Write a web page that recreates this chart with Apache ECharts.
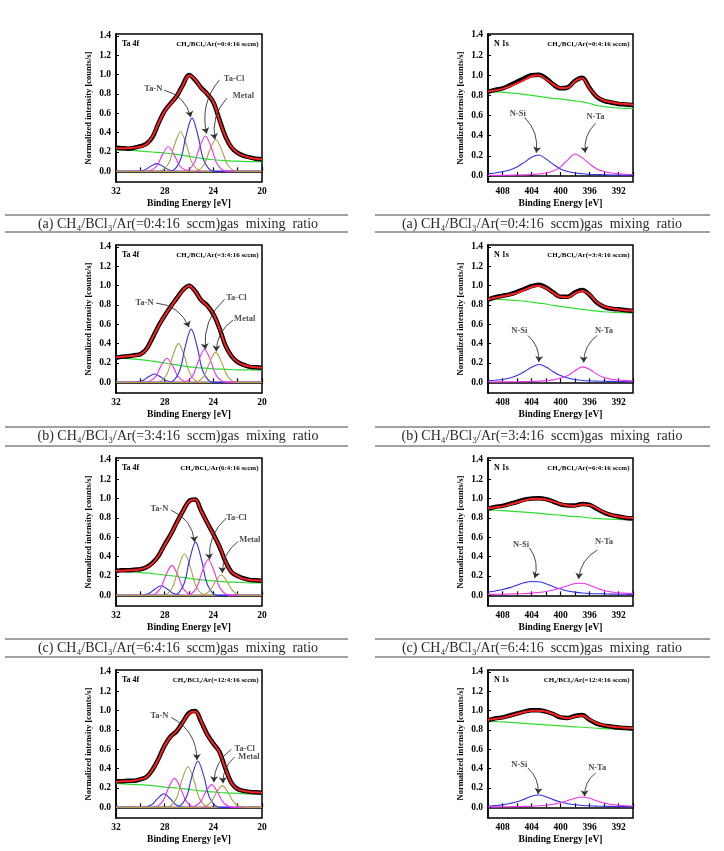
<!DOCTYPE html>
<html>
<head>
<meta charset="utf-8">
<script src="https://cdn.jsdelivr.net/npm/echarts@6/dist/echarts.min.js"></script>
<style>
  html, body { margin: 0; padding: 0; background: #fff; }
  #chart { width: 724px; height: 851px; }
</style>
</head>
<body>
<div id="chart"></div>
<script>
// ---- data ----
// Ta 4f energy grid (eV), high -> low
const taEnergy = [32, 31.5, 31, 30.5, 30, 29.5, 29, 28.5, 28, 27.5, 27, 26.5, 26, 25.5, 25, 24.5, 24, 23.5, 23, 22.5, 22, 21.5, 21, 20.5, 20];
const taBgEnergy = [32, 31, 30, 29, 28, 27, 26, 25, 24, 23, 22, 21, 20];
// N 1s energy grid (eV)
const nEnergy = [410, 409, 408, 407, 406, 405, 404, 403, 402, 401, 400, 399, 398, 397, 396, 395, 394, 393, 392, 391, 390];

// (a) 0:4:16
const taFitA = [0.24, 0.24, 0.24, 0.245, 0.255, 0.28, 0.36, 0.5, 0.62, 0.7, 0.78, 0.89, 0.99, 0.95, 0.86, 0.8, 0.72, 0.53, 0.36, 0.25, 0.19, 0.16, 0.14, 0.13, 0.125];
const taMeasA = [0.245, 0.24, 0.235, 0.245, 0.26, 0.285, 0.355, 0.5, 0.625, 0.705, 0.78, 0.895, 0.995, 0.945, 0.865, 0.8, 0.715, 0.535, 0.36, 0.245, 0.19, 0.16, 0.145, 0.13, 0.125];
const taBgA = [0.22, 0.22, 0.21, 0.2, 0.19, 0.175, 0.155, 0.135, 0.12, 0.11, 0.105, 0.1, 0.1];
const taPeaksA = [
  [[32, 0], [30.45, 0], [29.65, 0.015], [29.15, 0.053], [28.65, 0.08], [28.15, 0.053], [27.65, 0.015], [26.85, 0], [20, 0]],
  [[32, 0], [29.5, 0], [28.7, 0.048], [28.2, 0.168], [27.7, 0.255], [27.2, 0.168], [26.7, 0.048], [25.9, 0], [20, 0]],
  [[32, 0], [28.5, 0], [27.7, 0.078], [27.2, 0.27], [26.7, 0.41], [26.2, 0.27], [25.7, 0.078], [24.9, 0], [20, 0]],
  [[32, 0], [27.55, 0], [26.75, 0.105], [26.25, 0.363], [25.75, 0.55], [25.25, 0.363], [24.75, 0.105], [23.95, 0], [20, 0]],
  [[32, 0], [26.45, 0], [25.65, 0.069], [25.15, 0.241], [24.65, 0.365], [24.15, 0.241], [23.65, 0.069], [22.85, 0], [20, 0]],
  [[32, 0], [25.6, 0], [24.8, 0.063], [24.3, 0.218], [23.8, 0.33], [23.3, 0.218], [22.8, 0.063], [22.0, 0], [20, 0]]
];
const nFitA = [0.84, 0.85, 0.865, 0.89, 0.92, 0.955, 0.99, 1.0, 0.96, 0.91, 0.873, 0.875, 0.94, 0.97, 0.87, 0.79, 0.75, 0.733, 0.72, 0.715, 0.707];
const nMeasA = [0.835, 0.855, 0.87, 0.9, 0.935, 0.97, 1.0, 1.005, 0.97, 0.91, 0.87, 0.88, 0.945, 0.975, 0.875, 0.785, 0.745, 0.73, 0.715, 0.71, 0.705];
const nBgA = [0.84, 0.835, 0.83, 0.825, 0.82, 0.81, 0.8, 0.79, 0.78, 0.77, 0.765, 0.755, 0.745, 0.735, 0.72, 0.7, 0.69, 0.68, 0.675, 0.672, 0.67];
const nSiA = [0.022, 0.03, 0.042, 0.06, 0.09, 0.135, 0.185, 0.208, 0.17, 0.115, 0.07, 0.045, 0.03, 0.022, 0.017, 0.014, 0.012, 0.01, 0.009, 0.008, 0.007];
const nTaA = [0.004, 0.005, 0.006, 0.007, 0.009, 0.011, 0.015, 0.02, 0.03, 0.05, 0.09, 0.16, 0.218, 0.18, 0.12, 0.07, 0.045, 0.03, 0.022, 0.017, 0.014];

// (b) 3:4:16
const taFitB = [0.26, 0.265, 0.27, 0.275, 0.29, 0.34, 0.46, 0.58, 0.69, 0.78, 0.87, 0.95, 1.0, 0.94, 0.85, 0.79, 0.71, 0.56, 0.38, 0.27, 0.21, 0.18, 0.165, 0.155, 0.15];
const taMeasB = [0.255, 0.265, 0.27, 0.28, 0.29, 0.345, 0.46, 0.585, 0.69, 0.785, 0.87, 0.955, 1.0, 0.945, 0.85, 0.795, 0.705, 0.56, 0.38, 0.27, 0.21, 0.18, 0.16, 0.155, 0.15];
const taBgB = [0.25, 0.245, 0.235, 0.22, 0.2, 0.18, 0.16, 0.15, 0.14, 0.135, 0.13, 0.13, 0.125];
const taPeaksB = [
  [[32, 0], [30.64, 0], [29.84, 0.016], [29.34, 0.057], [28.84, 0.086], [28.34, 0.057], [27.84, 0.016], [27.04, 0], [20, 0]],
  [[32, 0], [29.62, 0], [28.82, 0.048], [28.32, 0.165], [27.82, 0.25], [27.32, 0.165], [26.82, 0.048], [26.02, 0], [20, 0]],
  [[32, 0], [28.66, 0], [27.86, 0.076], [27.36, 0.264], [26.86, 0.4], [26.36, 0.264], [25.86, 0.076], [25.06, 0], [20, 0]],
  [[32, 0], [27.62, 0], [26.82, 0.105], [26.32, 0.363], [25.82, 0.55], [25.32, 0.363], [24.82, 0.105], [24.02, 0], [20, 0]],
  [[32, 0], [26.52, 0], [25.72, 0.065], [25.22, 0.224], [24.72, 0.34], [24.22, 0.224], [23.72, 0.065], [22.92, 0], [20, 0]],
  [[32, 0], [25.61, 0], [24.81, 0.059], [24.31, 0.205], [23.81, 0.31], [23.31, 0.205], [22.81, 0.059], [22.01, 0], [20, 0]]
];
const nFitB = [0.86, 0.875, 0.89, 0.905, 0.925, 0.955, 0.985, 1.0, 0.975, 0.925, 0.885, 0.88, 0.92, 0.945, 0.91, 0.83, 0.785, 0.765, 0.755, 0.745, 0.74];
const nMeasB = [0.855, 0.88, 0.895, 0.91, 0.935, 0.965, 0.995, 1.01, 0.98, 0.93, 0.885, 0.885, 0.93, 0.955, 0.905, 0.825, 0.78, 0.76, 0.755, 0.745, 0.738];
const nBgB = [0.865, 0.86, 0.855, 0.85, 0.845, 0.84, 0.83, 0.82, 0.81, 0.795, 0.785, 0.775, 0.765, 0.755, 0.745, 0.737, 0.73, 0.725, 0.722, 0.72, 0.718];
const nSiB = [0.015, 0.022, 0.03, 0.045, 0.07, 0.11, 0.155, 0.184, 0.16, 0.11, 0.07, 0.045, 0.03, 0.02, 0.016, 0.013, 0.011, 0.01, 0.009, 0.008, 0.007];
const nTaB = [0.003, 0.004, 0.005, 0.006, 0.007, 0.008, 0.01, 0.013, 0.018, 0.026, 0.045, 0.07, 0.12, 0.16, 0.135, 0.085, 0.05, 0.033, 0.024, 0.018, 0.015];

// (c) 6:4:16
const taFitC = [0.255, 0.255, 0.26, 0.26, 0.27, 0.29, 0.33, 0.41, 0.52, 0.63, 0.75, 0.87, 0.97, 0.99, 0.87, 0.75, 0.63, 0.51, 0.35, 0.24, 0.2, 0.17, 0.16, 0.155, 0.15];
const taMeasC = [0.255, 0.26, 0.26, 0.265, 0.27, 0.29, 0.335, 0.41, 0.525, 0.63, 0.755, 0.87, 0.975, 0.99, 0.875, 0.75, 0.635, 0.505, 0.35, 0.24, 0.2, 0.175, 0.16, 0.155, 0.15];
const taBgC = [0.25, 0.245, 0.235, 0.225, 0.21, 0.195, 0.175, 0.16, 0.15, 0.14, 0.135, 0.13, 0.13];
const taPeaksC = [
  [[32, 0], [30.09, 0], [29.29, 0.019], [28.79, 0.066], [28.29, 0.1], [27.79, 0.066], [27.29, 0.019], [26.49, 0], [20, 0]],
  [[32, 0], [29.21, 0], [28.41, 0.059], [27.91, 0.205], [27.41, 0.31], [26.91, 0.205], [26.41, 0.059], [25.61, 0], [20, 0]],
  [[32, 0], [28.17, 0], [27.37, 0.082], [26.87, 0.284], [26.37, 0.43], [25.87, 0.284], [25.37, 0.082], [24.57, 0], [20, 0]],
  [[32, 0], [27.26, 0], [26.46, 0.105], [25.96, 0.363], [25.46, 0.55], [24.96, 0.363], [24.46, 0.105], [23.66, 0], [20, 0]],
  [[32, 0], [26.22, 0], [25.42, 0.07], [24.92, 0.244], [24.42, 0.37], [23.92, 0.244], [23.42, 0.07], [22.62, 0], [20, 0]],
  [[32, 0], [25.15, 0], [24.35, 0.04], [23.85, 0.139], [23.35, 0.21], [22.85, 0.139], [22.35, 0.04], [21.55, 0], [20, 0]]
];
const nFitC = [0.9, 0.91, 0.92, 0.94, 0.96, 0.98, 0.995, 1.0, 0.99, 0.97, 0.945, 0.93, 0.925, 0.94, 0.935, 0.9, 0.86, 0.83, 0.815, 0.805, 0.8];
const nMeasC = [0.895, 0.915, 0.925, 0.945, 0.965, 0.99, 1.0, 1.005, 0.995, 0.97, 0.94, 0.93, 0.93, 0.945, 0.935, 0.895, 0.855, 0.83, 0.815, 0.8, 0.795];
const nBgC = [0.885, 0.88, 0.875, 0.87, 0.865, 0.86, 0.855, 0.85, 0.84, 0.835, 0.83, 0.82, 0.815, 0.81, 0.8, 0.795, 0.79, 0.787, 0.785, 0.782, 0.78];
const nSiC = [0.035, 0.045, 0.06, 0.08, 0.105, 0.13, 0.143, 0.14, 0.12, 0.09, 0.065, 0.045, 0.033, 0.025, 0.02, 0.017, 0.015, 0.013, 0.012, 0.011, 0.01];
const nTaC = [0.01, 0.011, 0.012, 0.014, 0.016, 0.019, 0.023, 0.03, 0.04, 0.055, 0.075, 0.1, 0.122, 0.125, 0.105, 0.075, 0.05, 0.035, 0.027, 0.022, 0.018];

// (d) 12:4:16
const taFitD = [0.265, 0.27, 0.27, 0.275, 0.29, 0.31, 0.39, 0.5, 0.64, 0.73, 0.79, 0.88, 0.97, 0.99, 0.89, 0.75, 0.66, 0.57, 0.4, 0.25, 0.19, 0.17, 0.16, 0.155, 0.15];
const taMeasD = [0.27, 0.27, 0.275, 0.275, 0.29, 0.315, 0.39, 0.505, 0.64, 0.735, 0.79, 0.885, 0.975, 0.995, 0.885, 0.755, 0.66, 0.575, 0.4, 0.25, 0.19, 0.17, 0.16, 0.155, 0.15];
const taBgD = [0.245, 0.24, 0.235, 0.225, 0.21, 0.2, 0.185, 0.17, 0.16, 0.15, 0.145, 0.14, 0.14];
const taPeaksD = [
  [[32, 0], [29.87, 0], [29.07, 0.027], [28.57, 0.092], [28.07, 0.14], [27.57, 0.092], [27.07, 0.027], [26.27, 0], [20, 0]],
  [[32, 0], [28.99, 0], [28.19, 0.057], [27.69, 0.198], [27.19, 0.3], [26.69, 0.198], [26.19, 0.057], [25.39, 0], [20, 0]],
  [[32, 0], [27.89, 0], [27.09, 0.08], [26.59, 0.277], [26.09, 0.42], [25.59, 0.277], [25.09, 0.08], [24.29, 0], [20, 0]],
  [[32, 0], [27.07, 0], [26.27, 0.091], [25.77, 0.317], [25.27, 0.48], [24.77, 0.317], [24.27, 0.091], [23.47, 0], [20, 0]],
  [[32, 0], [25.94, 0], [25.14, 0.045], [24.64, 0.155], [24.14, 0.235], [23.64, 0.155], [23.14, 0.045], [22.34, 0], [20, 0]],
  [[32, 0], [25.06, 0], [24.26, 0.043], [23.76, 0.149], [23.26, 0.225], [22.76, 0.149], [22.26, 0.043], [21.46, 0], [20, 0]]
];
const nFitD = [0.905, 0.915, 0.925, 0.945, 0.965, 0.985, 0.998, 1.0, 0.99, 0.965, 0.935, 0.92, 0.94, 0.95, 0.91, 0.87, 0.85, 0.835, 0.828, 0.823, 0.82];
const nMeasD = [0.9, 0.92, 0.93, 0.95, 0.97, 0.99, 1.005, 1.005, 0.99, 0.965, 0.93, 0.925, 0.945, 0.955, 0.905, 0.865, 0.845, 0.835, 0.825, 0.82, 0.815];
const nBgD = [0.89, 0.887, 0.883, 0.878, 0.873, 0.868, 0.863, 0.858, 0.853, 0.848, 0.843, 0.838, 0.833, 0.828, 0.823, 0.818, 0.814, 0.81, 0.807, 0.805, 0.803];
const nSiD = [0.012, 0.018, 0.026, 0.04, 0.058, 0.085, 0.115, 0.128, 0.11, 0.08, 0.055, 0.038, 0.027, 0.02, 0.016, 0.013, 0.011, 0.01, 0.009, 0.008, 0.007];
const nTaD = [0.004, 0.005, 0.006, 0.007, 0.008, 0.01, 0.012, 0.016, 0.022, 0.032, 0.048, 0.07, 0.095, 0.107, 0.095, 0.068, 0.045, 0.03, 0.022, 0.017, 0.014];

// tick labels
const yTicks = [0, 0.2, 0.4, 0.6, 0.8, 1.0, 1.2, 1.4];
const taTicks = [20, 22, 24, 26, 28, 30, 32];
const taLabels = [20, 24, 28, 32];
const nTicks = [390, 392, 394, 396, 398, 400, 402, 404, 406, 408, 410];
const nLabels = [392, 396, 400, 404, 408];

// gas ratios / captions
const gasLeft = ['=0:4:16', '=3:4:16', '6:4:16', '=12:4:16'];
const gasRight = ['=0:4:16', '=3:4:16', '=6:4:16', '=12:4:16'];
const captions = ['(a) CH₄/BCl₃/Ar(=0:4:16  sccm)gas  mixing  ratio',
                  '(b) CH₄/BCl₃/Ar(=3:4:16  sccm)gas  mixing  ratio',
                  '(c) CH₄/BCl₃/Ar(=6:4:16  sccm)gas  mixing  ratio'];

// annotation placement (data coords) and arrow bend
const notesTa = [
  [{ t: 'Ta-N', x: 28.93, y: 0.85, a: [28.05, 0.84], b: [25.86, 0.56], c: 0.3 },
   { t: 'Ta-Cl', x: 22.3, y: 0.96, a: [23.5, 0.945], b: [24.55, 0.39], c: -0.25 },
   { t: 'Metal', x: 21.53, y: 0.78, a: [22.9, 0.755], b: [23.86, 0.33], c: -0.25 }],
  [{ t: 'Ta-N', x: 29.66, y: 0.82, a: [28.7, 0.82], b: [26.0, 0.57], c: 0.3 },
   { t: 'Ta-Cl', x: 22.1, y: 0.875, a: [23.07, 0.86], b: [24.66, 0.34], c: -0.25 },
   { t: 'Metal', x: 21.42, y: 0.66, a: [22.38, 0.645], b: [23.76, 0.32], c: -0.25 }],
  [{ t: 'Ta-N', x: 28.43, y: 0.9, a: [27.47, 0.88], b: [25.54, 0.55], c: 0.3 },
   { t: 'Ta-Cl', x: 22.1, y: 0.8, a: [22.93, 0.8], b: [24.31, 0.37], c: -0.25 },
   { t: 'Metal', x: 21.0, y: 0.575, a: [21.97, 0.557], b: [23.26, 0.23], c: -0.25 }],
  [{ t: 'Ta-N', x: 28.43, y: 0.95, a: [27.47, 0.93], b: [25.35, 0.49], c: 0.3 },
   { t: 'Ta-Cl', x: 21.42, y: 0.61, a: [22.52, 0.6], b: [23.95, 0.26], c: -0.25 },
   { t: 'Metal', x: 21.07, y: 0.525, a: [22.25, 0.52], b: [23.2, 0.25], c: -0.25 }]
];
const notesN = [
  [{ t: 'N-Si', x: 405.9, y: 0.62, a: [404.97, 0.583], b: [403.34, 0.23], c: 0.25 },
   { t: 'N-Ta', x: 395.17, y: 0.583, a: [395.17, 0.523], b: [396.57, 0.23], c: -0.25 }],
  [{ t: 'N-Si', x: 405.67, y: 0.53, a: [404.5, 0.485], b: [403.0, 0.21], c: 0.25 },
   { t: 'N-Ta', x: 394.0, y: 0.53, a: [394.94, 0.485], b: [396.8, 0.205], c: -0.25 }],
  [{ t: 'N-Si', x: 405.43, y: 0.523, a: [404.27, 0.49], b: [403.57, 0.18], c: 0.25 },
   { t: 'N-Ta', x: 394.0, y: 0.55, a: [394.94, 0.47], b: [397.5, 0.17], c: -0.25 }],
  [{ t: 'N-Si', x: 405.67, y: 0.44, a: [404.5, 0.407], b: [403.1, 0.138], c: 0.25 },
   { t: 'N-Ta', x: 394.94, y: 0.407, a: [395.17, 0.355], b: [396.67, 0.114], c: -0.25 }]
];

const taSets = [
  { fit: taFitA, meas: taMeasA, bg: taBgA, peaks: taPeaksA },
  { fit: taFitB, meas: taMeasB, bg: taBgB, peaks: taPeaksB },
  { fit: taFitC, meas: taMeasC, bg: taBgC, peaks: taPeaksC },
  { fit: taFitD, meas: taMeasD, bg: taBgD, peaks: taPeaksD }
];
const nSets = [
  { fit: nFitA, meas: nMeasA, bg: nBgA, si: nSiA, ta: nTaA },
  { fit: nFitB, meas: nMeasB, bg: nBgB, si: nSiB, ta: nTaB },
  { fit: nFitC, meas: nMeasC, bg: nBgC, si: nSiC, ta: nTaC },
  { fit: nFitD, meas: nMeasD, bg: nBgD, si: nSiD, ta: nTaD }
];

// ---- layout / style ----
const SERIF = '"Liberation Serif", "DejaVu Serif", serif';
const rowTop = [34, 245, 458, 670];
const rowH = 148;
const colLeft = [116, 488];
const colW = [146, 145];
// the top-right panel sits its zero a little lower in the frame
const yMinOf = (row, col) => (row === 0 && col === 1) ? -0.06 : -0.11;
const yMaxOf = (row, col) => (row === 0 && col === 1) ? 1.41 : 1.42;
const captionY = [224, 436, 648];
const captionLines = [[215, 232], [427, 446], [639, 657]];
const colorBlue = '#3030e8';
const colorMag = '#f030f0';
const colorOlive = '#a8a048';
const colorGreen = '#30dd30';
const colorRed = '#ff2020';
const peakColors = [colorBlue, colorMag, colorOlive, colorBlue, colorMag, colorOlive];

const pairs = (xs, ys) => xs.map((x, i) => [x, ys[i]]);

const chart = echarts.init(document.getElementById('chart'), null, { renderer: 'canvas' });

const grids = [], xAxes = [], yAxes = [], series = [], graphics = [];

function lineSeries(idx, data, color, width, z) {
  return {
    type: 'line', xAxisIndex: idx, yAxisIndex: idx, data: data,
    smooth: 0.35, showSymbol: false, symbol: 'none', silent: true, z: z,
    lineStyle: { color: color, width: width }, animation: false
  };
}

// labels as text-only scatter points
function labelSeries(idx, notes) {
  return {
    type: 'scatter', xAxisIndex: idx, yAxisIndex: idx, symbolSize: 0, silent: true, z: 10,
    data: notes.map(n => ({ value: [n.x, n.y], name: n.t })),
    label: {
      show: true, position: 'inside', formatter: '{b}', color: '#222',
      fontFamily: SERIF, fontWeight: 'bold', fontSize: 8.5
    },
    animation: false
  };
}

// curved arrows from label to peak
function arrowSeries(idx, notes) {
  return {
    type: 'lines', coordinateSystem: 'cartesian2d', xAxisIndex: idx, yAxisIndex: idx,
    silent: true, z: 9, animation: false,
    symbol: ['none', 'arrow'], symbolSize: 6,
    lineStyle: { color: '#333', width: 0.9, opacity: 1 },
    data: notes.map(n => ({ coords: [n.a, n.b], lineStyle: { curveness: n.c } }))
  };
}

for (let row = 0; row < 4; row++) {
  for (let col = 0; col < 2; col++) {
    const idx = grids.length;
    const isTa = col === 0;
    grids.push({
      left: colLeft[col], top: rowTop[row], width: colW[col], height: rowH,
      show: true, borderColor: '#000', borderWidth: 1.5, backgroundColor: 'transparent'
    });
    xAxes.push({
      gridIndex: idx, type: 'value', inverse: true,
      min: isTa ? 20 : 390, max: isTa ? 32 : 410,
      axisLine: { show: true, lineStyle: { color: '#000', width: 1.5 } },
      axisTick: { show: true, inside: true, length: 4, customValues: isTa ? taTicks : nTicks,
                  lineStyle: { color: '#000', width: 1.2 } },
      axisLabel: { customValues: isTa ? taLabels : nLabels, margin: 5, color: '#000',
                   fontFamily: SERIF, fontWeight: 'bold', fontSize: 9.5 },
      splitLine: { show: false },
      name: 'Binding Energy [eV]', nameLocation: 'middle', nameGap: 17,
      nameTextStyle: { color: '#000', fontFamily: SERIF, fontWeight: 'bold', fontSize: 9.5 }
    });
    yAxes.push({
      gridIndex: idx, type: 'value', min: yMinOf(row, col), max: yMaxOf(row, col),
      axisLine: { show: true, lineStyle: { color: '#000', width: 1.5 } },
      axisTick: { show: true, inside: true, length: 3, customValues: yTicks,
                  lineStyle: { color: '#000', width: 1 } },
      axisLabel: { customValues: yTicks, margin: 5, color: '#000', formatter: v => v.toFixed(1),
                   fontFamily: SERIF, fontWeight: 'bold', fontSize: 9.5 },
      splitLine: { show: false },
      name: 'Normalized intensity [counts/s]', nameLocation: 'middle', nameGap: 23,
      nameTextStyle: { color: '#000', fontFamily: SERIF, fontWeight: 'bold', fontSize: 8.5 }
    });

    let notes;
    if (isTa) {
      const s = taSets[row];
      series.push(lineSeries(idx, pairs(taBgEnergy, s.bg), colorGreen, 1.2, 2));
      s.peaks.forEach((p, k) => series.push(lineSeries(idx, p, peakColors[k], 1.1, 3)));
      series.push(lineSeries(idx, pairs(taEnergy, s.meas), '#000', 4.5, 4));
      series.push(lineSeries(idx, pairs(taEnergy, s.fit), colorRed, 2, 5));
      notes = notesTa[row];
    } else {
      const s = nSets[row];
      series.push(lineSeries(idx, pairs(nEnergy, s.bg), colorGreen, 1.2, 2));
      series.push(lineSeries(idx, pairs(nEnergy, s.si), colorBlue, 1.1, 3));
      series.push(lineSeries(idx, pairs(nEnergy, s.ta), colorMag, 1.1, 3));
      series.push(lineSeries(idx, pairs(nEnergy, s.meas), '#000', 4.5, 4));
      series.push(lineSeries(idx, pairs(nEnergy, s.fit), colorRed, 2, 5));
      notes = notesN[row];
    }
    series.push(labelSeries(idx, notes));
    series.push(arrowSeries(idx, notes));

    // panel header texts
    const gx = colLeft[col], gy = rowTop[row];
    graphics.push({
      type: 'text', x: gx + 6, y: gy + 10, silent: true,
      style: { text: isTa ? 'Ta 4f' : 'N 1s', fill: '#000', align: 'left', verticalAlign: 'middle',
               font: 'bold 8px ' + SERIF }
    });
    graphics.push({
      type: 'text', x: gx + colW[col] - 3.5, y: gy + 10, silent: true,
      style: { text: 'CH₄/BCl₃/Ar(' + (isTa ? gasLeft[row] : gasRight[row]) + ' sccm)', fill: '#000',
               align: 'right', verticalAlign: 'middle', font: 'bold 7px ' + SERIF }
    });
  }
}

// captions under rows a-c
captions.forEach((txt, r) => {
  [[5, 348, 178], [375, 710, 542]].forEach(([x1, x2, cx]) => {
    captionLines[r].forEach(ly => graphics.push({
      type: 'line', silent: true, shape: { x1: x1, y1: ly, x2: x2, y2: ly },
      style: { stroke: '#444', lineWidth: 1 }
    }));
    graphics.push({
      type: 'text', x: cx, y: captionY[r], silent: true,
      style: { text: txt, fill: '#2a2a2a', align: 'center', verticalAlign: 'middle',
               font: '14px ' + SERIF }
    });
  });
});

chart.setOption({
  backgroundColor: '#fff',
  animation: false,
  grid: grids,
  xAxis: xAxes,
  yAxis: yAxes,
  series: series,
  graphic: graphics
});
</script>
</body>
</html>
